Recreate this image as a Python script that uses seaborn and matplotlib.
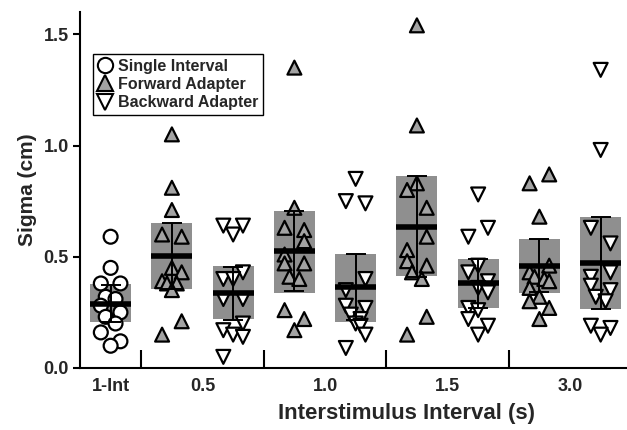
import numpy as np
import pandas as pd
import matplotlib
matplotlib.use('Agg')
import matplotlib.pyplot as plt
import seaborn as sns
from matplotlib.lines import Line2D
from matplotlib.font_manager import FontProperties

# ---------------- data ----------------
categories = ['1-Int', '0.5', '1.0', '1.5', '3.0']
kinds = ['Single Interval', 'Forward Adapter', 'Backward Adapter']

# each box: values and column-jitter index
single_int = [0.59, 0.45, 0.38, 0.38, 0.32, 0.31, 0.28, 0.25, 0.23, 0.20, 0.16, 0.12, 0.10]
single_col = [0, 0, -1, 1, -0.5, 0.5, -1, 1, -0.5, 0.5, -1, 1, 0]

fwd_05 = [1.05, 0.81, 0.71, 0.60, 0.59, 0.45, 0.43, 0.39, 0.38, 0.38, 0.35, 0.21, 0.15]
fwd_05_col = [0, 0, 0, -1, 1, 0, 1, -1, -0.5, 0.5, 0, 1, -1]
bwd_05 = [0.64, 0.60, 0.64, 0.43, 0.40, 0.40, 0.31, 0.31, 0.20, 0.17, 0.15, 0.14, 0.05]
bwd_05_col = [-1, 0, 1, 1, -1, 0, -1, 1, 1, -1, 0, 1, -1]

fwd_10 = [1.35, 0.72, 0.63, 0.62, 0.57, 0.51, 0.47, 0.47, 0.41, 0.40, 0.26, 0.22, 0.17]
fwd_10_col = [0, 0, -1, 1, 1, -1, -1, 1, -0.5, 0.5, -1, 1, 0]
bwd_10 = [0.85, 0.75, 0.74, 0.40, 0.35, 0.28, 0.27, 0.24, 0.22, 0.20, 0.19, 0.15, 0.09]
bwd_10_col = [0, -1, 1, 1, -1, -1, 1, -0.5, 0.5, 0, 0.5, 1, -1]

fwd_15 = [1.54, 1.09, 0.83, 0.80, 0.72, 0.59, 0.53, 0.48, 0.46, 0.43, 0.40, 0.23, 0.15]
fwd_15_col = [0, 0, 0, -1, 1, 1, -1, -1, 1, -0.5, 0.5, 1, -1]
bwd_15 = [0.78, 0.63, 0.59, 0.46, 0.43, 0.39, 0.36, 0.34, 0.27, 0.26, 0.22, 0.19, 0.15]
bwd_15_col = [0, 1, -1, 0, -1, 1, 0, 1, -1, 0, -1, 1, 0]

fwd_30 = [0.87, 0.83, 0.68, 0.46, 0.43, 0.41, 0.40, 0.39, 0.36, 0.32, 0.30, 0.27, 0.22]
fwd_30_col = [1, -1, 0, 1, -1, -0.5, 0.5, 1, -1, 0, -1, 1, 0]
bwd_30 = [1.34, 0.98, 0.63, 0.56, 0.43, 0.41, 0.37, 0.35, 0.32, 0.30, 0.19, 0.18, 0.15]
bwd_30_col = [0, 0, -1, 1, 1, -1, -1, 1, -0.5, 0.5, -1, 1, 0]

# summary boxes per position (0..8)
box_lo = [0.205, 0.353, 0.220, 0.338, 0.208, 0.414, 0.271, 0.338, 0.263]
box_hi = [0.377, 0.653, 0.457, 0.704, 0.511, 0.861, 0.492, 0.581, 0.678]
medians = [0.288, 0.502, 0.338, 0.525, 0.362, 0.634, 0.383, 0.457, 0.472]
err_lo = [0.205, 0.353, 0.215, 0.347, 0.215, 0.410, 0.271, 0.340, 0.263]
err_hi = [0.372, 0.653, 0.455, 0.704, 0.511, 0.861, 0.492, 0.581, 0.678]

groups = [
    ('Single Interval', single_int, single_col),
    ('Forward Adapter', fwd_05, fwd_05_col),
    ('Backward Adapter', bwd_05, bwd_05_col),
    ('Forward Adapter', fwd_10, fwd_10_col),
    ('Backward Adapter', bwd_10, bwd_10_col),
    ('Forward Adapter', fwd_15, fwd_15_col),
    ('Backward Adapter', bwd_15, bwd_15_col),
    ('Forward Adapter', fwd_30, fwd_30_col),
    ('Backward Adapter', bwd_30, bwd_30_col),
]

rows = []
for pos, (kind, vals, cols) in enumerate(groups):
    for v, c in zip(vals, cols):
        rows.append({'x': pos + 0.16 * c, 'sigma': v, 'kind': kind})
df = pd.DataFrame(rows)

# ---------------- styling ----------------
sns.set_theme(style='white')
plt.rcParams['font.family'] = ['Liberation Sans', 'DejaVu Sans']
plt.rcParams['font.weight'] = 'bold'

box_color = '#8f8f8f'
fwd_color = '#a3a3a3'

fig = plt.figure(figsize=(6.27, 4.30), dpi=100)
ax = fig.add_axes([80 / 627, 1 - 368 / 430, 1 - 80 / 627, (368 - 12) / 430])

positions = np.arange(len(box_lo))
lo = np.array(box_lo)
hi = np.array(box_hi)
med = np.array(medians)
width = 0.67

ax.bar(positions, hi - lo, bottom=lo, width=width, color=box_color,
       edgecolor='none', zorder=1)

sns.scatterplot(data=df, x='x', y='sigma', hue='kind', style='kind',
                markers={'Single Interval': 'o', 'Forward Adapter': '^',
                         'Backward Adapter': 'v'},
                palette={'Single Interval': 'white', 'Forward Adapter': fwd_color,
                         'Backward Adapter': 'white'},
                s=100, edgecolor='black', linewidth=1.6, legend=False,
                zorder=3, ax=ax)

ax.errorbar(positions, med, yerr=[med - np.array(err_lo), np.array(err_hi) - med],
            fmt='none', ecolor='black', elinewidth=1.4, capsize=7.5,
            capthick=1.4, zorder=4)
ax.hlines(med, positions - width / 2, positions + width / 2, color='black',
          linewidth=4, zorder=5)

ax.set_xlim(-0.5, 8.43)
ax.set_ylim(0, 1.6)

ax.set_xticks([0, 1.5, 3.5, 5.5, 7.5])
ax.set_xticklabels(categories, fontsize=13, fontweight='bold')
ax.set_xticks([0.5, 2.5, 4.5, 6.5], minor=True)
ax.tick_params(axis='x', which='major', length=0, pad=7)
ax.tick_params(axis='x', which='minor', direction='in', length=13, width=1.5,
               color='black', bottom=True)

ax.set_yticks([0, 0.5, 1.0, 1.5])
ax.set_yticklabels(['0.0', '0.5', '1.0', '1.5'], fontsize=13, fontweight='bold')
ax.tick_params(axis='y', which='major', direction='out', length=5, width=1.5,
               color='black', left=True, pad=3)

for side in ['top', 'right']:
    ax.spines[side].set_visible(False)
for side in ['left', 'bottom']:
    ax.spines[side].set_color('black')
    ax.spines[side].set_linewidth(1.5)

ax.set_xlabel('Interstimulus Interval (s)', fontsize=16, fontweight='bold')
ax.xaxis.set_label_coords((406 - 80) / 547, -0.098)
ax.set_ylabel('Sigma (cm)', fontsize=15, fontweight='bold', labelpad=5)

handles = [
    Line2D([], [], marker='o', linestyle='none', markersize=11,
           markerfacecolor='white', markeredgecolor='black', markeredgewidth=1.5),
    Line2D([], [], marker='^', linestyle='none', markersize=11,
           markerfacecolor=fwd_color, markeredgecolor='black', markeredgewidth=1.5),
    Line2D([], [], marker='v', linestyle='none', markersize=11,
           markerfacecolor='white', markeredgecolor='black', markeredgewidth=1.5),
]
leg_font = FontProperties(family=['Liberation Sans', 'DejaVu Sans'],
                          weight='bold', size=11.5)
leg = ax.legend(handles, kinds, loc='upper left', bbox_to_anchor=(0.024, 0.882),
                borderaxespad=0, fancybox=False, framealpha=1, edgecolor='black',
                prop=leg_font, handlelength=0.9,
                handletextpad=0.35, labelspacing=0.2, borderpad=0.3)
for t in leg.get_texts():
    t.set_fontweight('bold')
leg.get_frame().set_linewidth(1.0)

fig.savefig('out.png', dpi=100)
